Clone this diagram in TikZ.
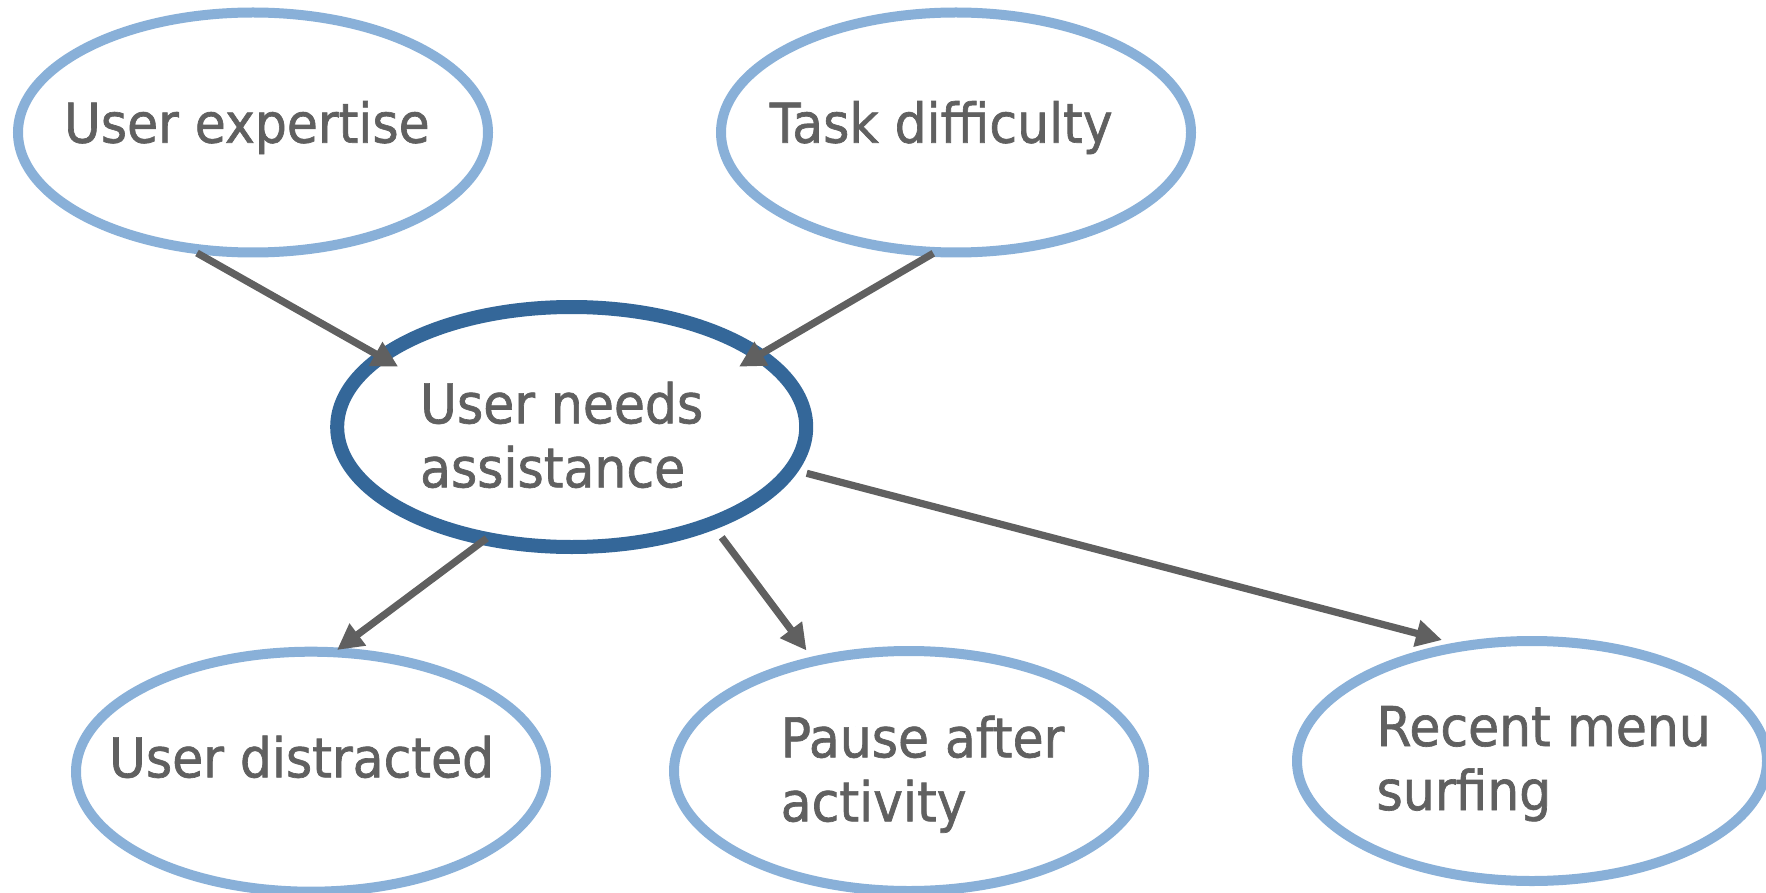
\documentclass[tikz,border=0pt]{standalone}
\usepackage{fontspec}
\setmainfont{DejaVu Sans}[FakeStretch=0.92,FakeBold=1.2]
\usetikzlibrary{shapes.geometric,arrows.meta,calc}

\definecolor{nodeline}{RGB}{137,176,216}
\definecolor{keyline}{RGB}{52,103,153}
\definecolor{ink}{RGB}{96,96,96}

% #1 horizontal shift, #2 lift of the first baseline, #3 left-aligned lines
\newcommand{\nodetext}[3]{\makebox[0pt][c]{\hspace*{#1}\raisebox{#2}[0pt][0pt]{\begin{tabular}[t]{@{}l@{}}#3\end{tabular}}\hspace*{-#1}}}

\tikzset{
  cause/.style={ellipse, draw=nodeline, line width=5pt, fill=white,
    minimum width=235pt, minimum height=120pt, inner sep=0pt,
    text=ink, font=\fontsize{27.4pt}{32pt}\selectfont},
  hub/.style={cause, draw=keyline, line width=7pt, minimum width=234.5pt},
  link/.style={draw=ink, line width=3.6pt,
    -{Triangle[length=13pt,width=13pt]}}
}

\begin{document}
\begin{tikzpicture}[x=0.5pt,y=-0.5pt]
  \clip (0,0) rectangle (1766,893);

  % top row: causes
  \node[cause] (ue) at (253,132.5) {\nodetext{-3.1pt}{-5.1pt}{User expertise}};
  \node[cause] (td) at (956,132.5) {\nodetext{-7.4pt}{-5.1pt}{Task difficulty}};

  % central variable
  \node[hub] (c) at (571.7,427) {\nodetext{-5pt}{1.85pt}{User needs\\assistance}};

  % bottom row: observations
  \node[cause] (ud) at (311,771.7) {\nodetext{-4.7pt}{-2.8pt}{User distracted}};
  \node[cause] (pa) at (909,771) {\nodetext{6.75pt}{6.85pt}{Pause after\\activity}};
  \node[cause] (rm) at (1532,761) {\nodetext{5.85pt}{7.5pt}{Recent menu\\surfing}};

  % dependencies
  \draw[link] ($(ue)+(-56,120.5)$) -- ($(c)+(-173.5,-60.3)$);
  \draw[link] ($(td)+(-22.7,120.8)$) -- ($(c)+(167.3,-60.3)$);
  \draw[link] ($(c)+(-85,111.3)$) -- ($(ud)+(26,-121.7)$);
  \draw[link] ($(c)+(150,110.3)$) -- ($(pa)+(-102.5,-120.5)$);
  \draw[link] ($(c)+(235,46.3)$) -- ($(rm)+(-90,-121)$);
\end{tikzpicture}
\end{document}
